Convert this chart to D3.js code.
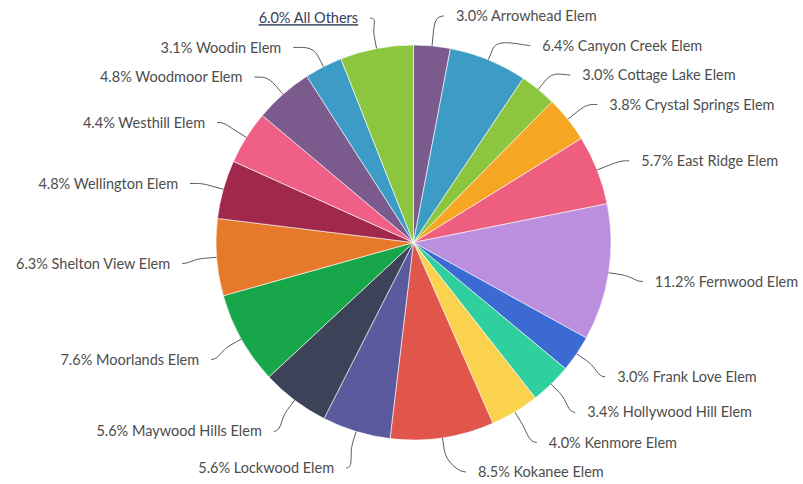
<!DOCTYPE html>
<html lang="en">
<head>
<meta charset="UTF-8">
<title>Enrollment by school</title>
<script src="https://d3js.org/d3.v7.min.js"></script>
<style>
  body { margin: 0; background: #fff; }
  svg text { font-family: Lato, "Open Sans", sans-serif; font-size: 14.5px; }
</style>
</head>
<body>
<svg id="chart" width="803" height="484"></svg>
<script>
// slices, clockwise from 12 o'clock
var schools = ["Arrowhead Elem", "Canyon Creek Elem", "Cottage Lake Elem", "Crystal Springs Elem",
  "East Ridge Elem", "Fernwood Elem", "Frank Love Elem", "Hollywood Hill Elem", "Kenmore Elem",
  "Kokanee Elem", "Lockwood Elem", "Maywood Hills Elem", "Moorlands Elem", "Shelton View Elem",
  "Wellington Elem", "Westhill Elem", "Woodmoor Elem", "Woodin Elem", "All Others"];
var shares = [3.0, 6.4, 3.0, 3.8, 5.7, 11.2, 3.0, 3.4, 4.0, 8.5, 5.6, 5.6, 7.6, 6.3, 4.8, 4.4, 4.8, 3.1, 6.0];
var colors = ["#7b5a8e", "#3d9cc6", "#8cc63e", "#f6a623", "#ee5f7f", "#bb8ede", "#3b6ad2", "#2fcf9e",
  "#fbd24e", "#e0564b", "#5c5a9e", "#3c4257", "#17a64a", "#e67a2a", "#a0284c", "#ef5f86",
  "#7b5a8e", "#3d9cc6", "#8cc63e"];

var cx = 413.5, cy = 242.5, r = 197.5;
var labelCy = 246, labelR = 232, minGap = 29.5, topY = 16, bottomY = 472;

var svg = d3.select("#chart");
var g = svg.append("g").attr("transform", "translate(" + cx + "," + cy + ")");

var data = schools.map(function (s, i) { return { name: s, value: shares[i], color: colors[i] }; });
var pie = d3.pie().sort(null).value(function (d) { return d.value; });
var arcs = pie(data);
var arc = d3.arc().innerRadius(0).outerRadius(r);

g.selectAll("path.slice").data(arcs).enter().append("path")
  .attr("class", "slice")
  .attr("d", arc)
  .attr("fill", function (d) { return d.data.color; })
  .attr("stroke", "#fff")
  .attr("stroke-width", 0.6);

// label positions: natural y from mid angle, then push apart on each side
var labels = arcs.map(function (d) {
  var a = (d.startAngle + d.endAngle) / 2;
  return { d: d, a: a, right: a < Math.PI, y: labelCy - labelR * Math.cos(a) };
});

function spread(list) {
  list.sort(function (p, q) { return p.y - q.y; });
  var prev = topY - minGap;
  list.forEach(function (l) { l.y = Math.max(l.y, prev + minGap); prev = l.y; });
  var next = bottomY + minGap;
  for (var i = list.length - 1; i >= 0; i--) {
    list[i].y = Math.min(list[i].y, next - minGap);
    next = list[i].y;
  }
}
spread(labels.filter(function (l) { return l.right; }));
spread(labels.filter(function (l) { return !l.right; }));

labels.forEach(function (l) {
  var dy = l.y - labelCy;
  var off = Math.sqrt(Math.max(0, labelR * labelR - dy * dy));
  var sign = l.right ? 1 : -1;
  l.xc = cx + sign * off;
  l.xt = l.xc + sign * 12;
  l.ex = cx + r * Math.sin(l.a);
  l.ey = cy - r * Math.cos(l.a);
  l.bx = cx + (r + 12) * Math.sin(l.a);
  l.by = cy - (r + 12) * Math.cos(l.a);
});

svg.selectAll("path.conn").data(labels).enter().append("path")
  .attr("class", "conn")
  .attr("fill", "none")
  .attr("stroke", "#5a5a5a")
  .attr("stroke-width", 1)
  .attr("d", function (l) {
    var sign = l.right ? 1 : -1;
    return "M" + l.xc + "," + l.y +
      "C" + (l.xc - sign * 8) + "," + l.y + " " +
      (2 * l.bx - l.ex) + "," + (2 * l.by - l.ey) + " " + l.bx + "," + l.by +
      "L" + l.ex + "," + l.ey;
  });

svg.selectAll("text.lbl").data(labels).enter().append("text")
  .attr("class", "lbl")
  .attr("x", function (l) { return l.xt; })
  .attr("y", function (l) { return l.y; })
  .attr("dy", "0.35em")
  .attr("text-anchor", function (l) { return l.right ? "start" : "end"; })
  .attr("fill", function (l) { return l.d.data.name === "All Others" ? "#34405a" : "#4d4d4d"; })
  .style("text-decoration", function (l) { return l.d.data.name === "All Others" ? "underline" : null; })
  .text(function (l) { return l.d.data.value.toFixed(1) + "% " + l.d.data.name; });
</script>
</body>
</html>
